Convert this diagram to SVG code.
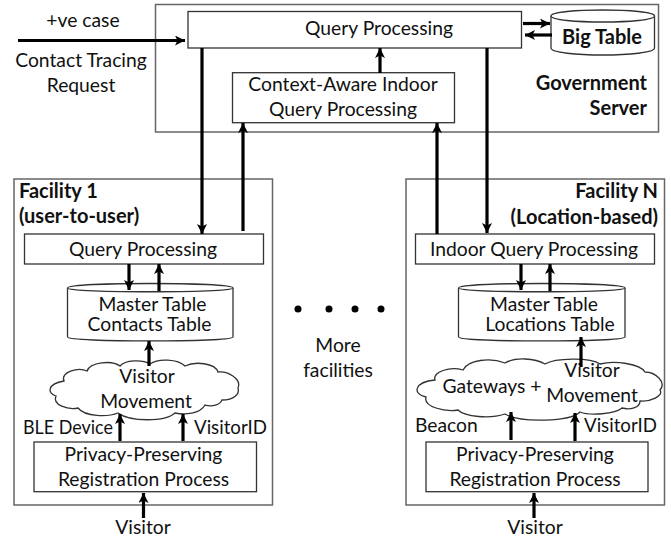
<svg xmlns="http://www.w3.org/2000/svg" width="671" height="538" viewBox="0 0 671 538">
<style>
text{font-family:"Lato","Liberation Sans",sans-serif;font-size:19.300px;fill:#111;text-anchor:middle}
.b{font-weight:700;font-size:20px}
.e{text-anchor:end}
.s{text-anchor:start}
.o{fill:none;stroke:#666;stroke-width:1.5}
.n{fill:#fff;stroke:#333;stroke-width:1.3}
.c{fill:none;stroke:#000;stroke-width:3.2;marker-end:url(#a)}
</style>
<defs><marker id="a" markerUnits="userSpaceOnUse" markerWidth="12" markerHeight="12" refX="10" refY="5" orient="auto"><path d="M0 0L10 5L0 10L2.5 5Z" fill="#000"/></marker></defs>
<rect width="671" height="538" fill="#fff"/>
<g id="government-server"><rect class="o" x="155.5" y="4.5" width="503" height="127.5"/><text class="b e" x="647" y="90">Government</text><text class="b e" x="647" y="115">Server</text></g>
<g id="facility-1"><rect class="o" x="14" y="179" width="258.5" height="326"/><text class="b s" x="19" y="198">Facility 1</text><text class="b s" x="19" y="223">(user-to-user)</text></g>
<g id="facility-n"><rect class="o" x="406" y="179" width="258.5" height="326"/><text class="b e" x="658" y="198">Facility N</text><text class="b e" x="658" y="224">(Location-based)</text></g>
<g id="gov-query"><rect class="n" x="188" y="11.5" width="333.5" height="36.5"/><text x="379" y="35">Query Processing</text></g>
<g id="context-query"><rect class="n" x="232.5" y="72.7" width="222" height="50"/><text x="343" y="91">Context-Aware Indoor</text><text x="343" y="116">Query Processing</text></g>
<g id="big-table"><path class="n" d="M551 16C551 8 654.500 8 654.500 16V48C654.500 57.300 551 57.300 551 48Z"/><path class="n" d="M551 16C551 24 654.500 24 654.500 16"/><text class="b" x="602" y="44">Big Table</text></g>
<g id="f1-query"><rect class="n" x="24.500" y="234" width="239" height="30"/><text x="143" y="256">Query Processing</text></g>
<g id="f1-table"><path class="n" d="M67.500 288C67.500 282 233 282 233 288V337C233 342.300 67.500 342.300 67.500 337Z"/><path class="n" d="M67.500 288C67.500 293 233 293 233 288"/><text x="152.500" y="311">Master Table</text><text x="149.500" y="331">Contacts Table</text></g>
<g id="f1-cloud"><path class="n" d="M64 381C60 372 78 367 87 371C90 362 112 360 120 366C125 360 142 359 150 364C158 358 178 359 185 366C195 361 215 363 218 372C228 371 242 379 238 388C240 394 234 400 222 400C220 405 212 407 205 405C200 414 185 415 175 413C165 422 130 422 118 413C108 417 85 417 78 408C68 410 52 405 56 396C47 393 47 384 64 381Z"/><text x="147" y="383">Visitor</text><text x="146" y="408">Movement</text></g>
<g id="f1-registration"><rect class="n" x="34" y="442" width="222.500" height="49.700"/><text x="143.500" y="461">Privacy-Preserving</text><text x="143.500" y="486">Registration Process</text></g>
<g id="fn-query"><rect class="n" x="415.500" y="234" width="239" height="30"/><text x="534" y="256">Indoor Query Processing</text></g>
<g id="fn-table"><path class="n" d="M458.500 288C458.500 282 625 282 625 288V337C625 342.300 458.500 342.300 458.500 337Z"/><path class="n" d="M458.500 288C458.500 293 625 293 625 288"/><text x="544" y="311">Master Table</text><text x="550" y="331">Locations Table</text></g>
<g id="fn-cloud"><path class="n" d="M435 380C432 372 450 366 463 370C468 360 490 357 505 363C515 357 535 358 545 364C555 358 590 357 600 364C615 360 640 364 645 372C655 372 667 382 660 390C664 396 650 402 640 401C640 408 630 410 622 408C615 414 590 416 580 412C570 422 520 423 505 414C490 419 465 417 458 410C445 412 423 407 426 397C412 394 414 382 435 380Z"/><text x="492" y="393">Gateways +</text><text x="592" y="377">Visitor</text><text x="592" y="402">Movement</text></g>
<g id="fn-registration"><rect class="n" x="426" y="442" width="222" height="49.700"/><text x="535" y="461">Privacy-Preserving</text><text x="535" y="486">Registration Process</text></g>
<g id="labels"><text x="83" y="27">+ve case</text><text x="81" y="67">Contact Tracing</text><text x="81" y="92">Request</text><text class="s" x="23" y="434" textLength="90" lengthAdjust="spacingAndGlyphs">BLE Device</text><text class="s" x="194" y="434" textLength="73" lengthAdjust="spacingAndGlyphs">VisitorID</text><text class="s" x="415" y="432">Beacon</text><text class="s" x="584" y="432" textLength="73" lengthAdjust="spacingAndGlyphs">VisitorID</text><text x="143" y="534">Visitor</text><text x="535" y="534">Visitor</text><text x="338" y="352">More</text><text x="338" y="377">facilities</text><g fill="#000"><circle cx="298" cy="309" r="3.500"/><circle cx="329" cy="309" r="3.500"/><circle cx="355" cy="309" r="3.500"/><circle cx="381" cy="309" r="3.500"/></g></g>
<g id="connectors"><path class="c" d="M18 40.500H185"/><path class="c" d="M202 48V234"/><path class="c" d="M243 231V123"/><path class="c" d="M487 48V233"/><path class="c" d="M437 234V123"/><path class="c" d="M380 73V48"/><path class="c" d="M523 23.500H550"/><path class="c" d="M552 35H525"/>
<path class="c" d="M129 264V290"/><path class="c" d="M159 291V264"/><path class="c" d="M149 366V341"/><path class="c" d="M120 441V414"/><path class="c" d="M183 441V414"/><path class="c" d="M143.500 518V493"/>
<path class="c" d="M521 264V290"/><path class="c" d="M550 291V264"/><path class="c" d="M581 367V337"/><path class="c" d="M511 440V412"/><path class="c" d="M575 441V413"/><path class="c" d="M534 518V493"/></g>
</svg>
